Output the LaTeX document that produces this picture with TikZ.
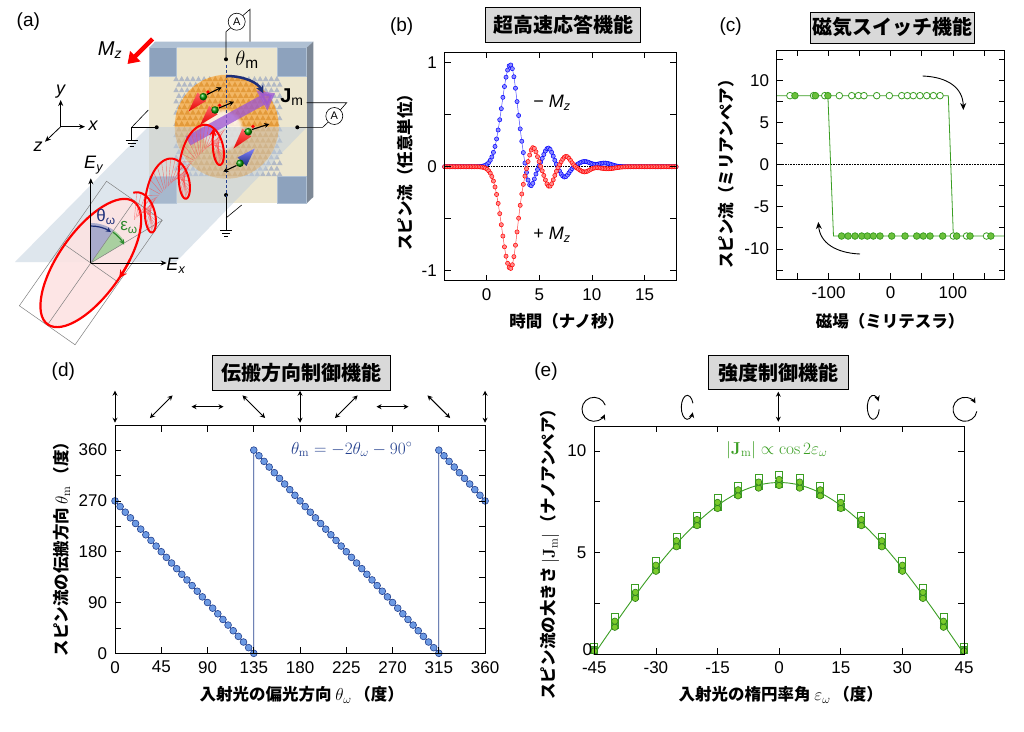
\documentclass[tikz,border=0pt]{standalone}
\usepackage[no-math]{fontspec}
\setmainfont{Liberation Sans}
\newfontfamily\jp{Noto Sans CJK JP}
\usetikzlibrary{arrows.meta,fadings}
\definecolor{cbox}{HTML}{D9D9D9}
\definecolor{cbeige}{HTML}{ECE6CF}
\definecolor{cpad}{HTML}{8DA2BD}
\definecolor{cdevtop}{HTML}{AFC0D3}
\definecolor{cdevside}{HTML}{7D8896}
\definecolor{cplane}{HTML}{BFCEDD}
\definecolor{cnavy}{HTML}{1D2F7A}
\definecolor{cdblue}{HTML}{23408E}
\definecolor{cdfill}{HTML}{6D9AE3}
\definecolor{cgreen}{HTML}{3A9E22}
\definecolor{cgfill}{HTML}{6CC03C}
\definecolor{cefill}{HTML}{7ACB2C}
\definecolor{cpurple}{HTML}{9B55D6}
\definecolor{cpink}{HTML}{FDE3E3}
\definecolor{cthfill}{HTML}{A9ABCB}
\definecolor{cepfill}{HTML}{A9CFA0}
\definecolor{clat}{HTML}{B2B9C5}
\definecolor{corbg}{HTML}{F3B765}
\definecolor{cortri}{HTML}{E39A3A}
\definecolor{cepsg}{HTML}{2E8B2E}
\begin{document}
\begin{tikzpicture}[x=1pt,y=-1pt,
  declare function={gs(\u)=exp(-(\u)*(\u));
    G(\t)=gs((\t-2.25)/ifthenelse(\t<2.25,1.15,0.95));
    fb(\t)=0.98*G(\t)-0.2*gs((\t-4.15)/0.55)+0.18*gs((\t-5.85)/0.65)-0.1*gs((\t-7.4)/0.6)+0.05*gs((\t-9.3)/0.8)+0.035*gs((\t-11.2)/0.9);
    fr(\t)=-0.98*G(\t)+0.19*gs((\t-4.4)/0.55)-0.19*gs((\t-5.95)/0.6)+0.1*gs((\t-7.55)/0.6)-0.05*gs((\t-9.3)/0.7)-0.02*gs((\t-11.5)/1);},
  tk/.style={font=\fontsize{17}{17}\selectfont, inner sep=1pt},
  axl/.style={font=\jp\bfseries\fontsize{16.5}{17}\selectfont},
  ttl/.style={draw, line width=1pt, fill=cbox, font=\jp\bfseries\fontsize{20}{20}\selectfont, inner sep=0pt},
  plabel/.style={font=\fontsize{19}{19}\selectfont},
  plotframe/.style={line width=1pt},
  tick/.style={line width=0.8pt},
  dbl/.style={line width=0.9pt,{Stealth[length=5pt,width=5pt]}-{Stealth[length=5pt,width=5pt]}},
  icon/.style={line width=0.9pt,-{Stealth[length=5.5pt,width=5.5pt]}},
  wire/.style={line width=0.6pt},
]
\useasboundingbox (0,0) rectangle (1024,731);
\fill[white] (0,0) rectangle (1024,731);

%%%%%%%%%%%%%%%% panel (a)
\node[plabel] (la) at (28.3,21.7) {(a)};
% device
\fill[cdevtop] (149.3,47.7) -- (155,41.7) -- (313.3,41.7) -- (306.7,47.7) -- cycle;
\fill[cdevside] (306.7,47.7) -- (313.3,41.7) -- (313.3,197) -- (306.7,203.3) -- cycle;
\fill[cbeige] (149.3,47.7) rectangle (306.7,203.3);
\foreach \a/\b/\c/\d in {149.3/47.7/176.7/76, 277.7/47.7/306.7/76, 149.3/176.7/176.7/203.3, 277.7/176.7/306.7/203.3}
  \filldraw[fill=cpad, draw=cdevtop, line width=0.8pt] (\a,\b) rectangle (\c,\d);
% lattice
\foreach \i in {0,...,17} \foreach \j in {0,...,18} {
  \pgfmathsetmacro\xx{173.3+\j*5.6+mod(\i,2)*2.8}
  \pgfmathsetmacro\yy{76+\i*5.6}
  \fill[clat] (\xx,\yy+5) -- (\xx+2.8,\yy) -- (\xx+5.6,\yy+5) -- cycle;}
\begin{scope}
  \clip (226.7,126.7) circle (52);
  \fill[corbg] (170,70) rectangle (285,180);
  \foreach \i in {0,...,17} \foreach \j in {0,...,18} {
    \pgfmathsetmacro\xx{173.3+\j*5.6+mod(\i,2)*2.8}
    \pgfmathsetmacro\yy{76+\i*5.6}
    \fill[cortri] (\xx,\yy+5) -- (\xx+2.8,\yy) -- (\xx+5.6,\yy+5) -- cycle;}
\end{scope}
\fill[white, opacity=0.8, path fading=circle with fuzzy edge 20 percent] (222,130) circle (22);
% light plane
\fill[cplane, opacity=0.5] (15,262) -- (148,127) -- (307,127) -- (176,262) -- cycle;
% wires and electrodes
\draw[wire] (226,59.3) -- (226,31.7) -- (230.7,27.7);
\draw[wire] (242.7,15.7) -- (250,9.3) -- (250,41.7);
\node[draw, circle, fill=white, minimum size=17pt, inner sep=0pt, font=\fontsize{11}{11}\selectfont, line width=0.6pt] (amp1) at (236.7,21.7) {A};
\draw[wire] (297.3,127.3) -- (322.7,127.3) -- (328.3,122);
\draw[wire] (340.3,110) -- (346.7,102.7) -- (306.7,102.7);
\node[draw, circle, fill=white, minimum size=17pt, inner sep=0pt, font=\fontsize{11}{11}\selectfont, line width=0.6pt] (amp2) at (334.3,116) {A};
\draw[wire] (156.7,127.3) -- (131.7,127.3) -- (131.7,140);
\draw[wire] (131.7,127.3) -- (148.3,110);
\draw[wire] (125.7,140) -- (137.7,140) (127.7,143) -- (135.7,143) (129.7,146) -- (133.7,146);
\draw[wire] (226,195) -- (226,230);
\draw[wire] (226,218) -- (241.7,205);
\draw[wire] (220,230) -- (232,230) (222,233) -- (230,233) (224,236) -- (228,236);
\foreach \p in {(226,59.3),(297.3,127.3),(156.7,127.3),(226,195)} \fill \p circle (2);
\draw[cdblue, line width=0.8pt, dash pattern=on 3pt off 2pt] (226,65) -- (226,197);
% spins
\shade[top color=red!60, bottom color=red!90!black] (188.5,111.5) -- (206,101) -- (197.5,92.5) -- cycle;
\fill[red] (208,92) circle (1.8);
\shade[ball color=green!60!black] (203.3,96.7) circle (3.8);
\draw[line width=1.1pt,-{Stealth[length=5pt,width=5pt]}] (207,94.5) -- (221.7,87.3);
\shade[top color=red!60, bottom color=red!90!black] (200.2,124.8) -- (217.7,114.3) -- (209.2,105.8) -- cycle;
\fill[red] (219.7,105.3) circle (1.8);
\shade[ball color=green!60!black] (215,110) circle (3.8);
\draw[line width=1.1pt,-{Stealth[length=5pt,width=5pt]}] (219,108) -- (234,101.7);
\shade[top color=red!60, bottom color=red!90!black] (233.5,148.5) -- (251.2,136.5) -- (242.4,128.5) -- cycle;
\fill[red] (253,126.5) circle (1.8);
\shade[ball color=green!60!black] (248.3,131.7) circle (3.8);
\draw[line width=1.1pt,-{Stealth[length=5pt,width=5pt]}] (252,129.5) -- (269.3,124);
\shade[top color=blue!50, bottom color=cnavy] (254.8,148.5) -- (246.5,166) -- (237.5,157.5) -- cycle;
\shade[ball color=green!60!black] (240,163.3) circle (3.8);
\draw[line width=1.1pt,-{Stealth[length=5pt,width=5pt]}] (236.5,165.5) -- (223.3,171.7);
% J_m arrow and theta_m arrow
\draw[cpurple, opacity=0.75, line width=10pt, -{Triangle[width=22pt,length=15pt]}] (188,141) -- (275,93.3);
\draw[cnavy, line width=2.5pt, -{Stealth[length=8pt,width=8pt]}] (226,76) .. controls (245,76) and (258,83) .. (263.3,93.3);
\node[font=\fontsize{22}{22}\selectfont] (thm) at (247,60) {$\theta$\textsubscript{m}};
\node[font=\fontsize{20}{20}\selectfont] (jm) at (292,96.7) {\textbf{J}\textsubscript{m}};
% M_z
\draw[red, line width=4.5pt, -{Triangle[width=14pt,length=11pt]}] (152.5,39) -- (127.5,64);
\node[font=\fontsize{20}{20}\selectfont] (mz) at (110,50) {\textit{M}\textsubscript{\textit{z}}};
% axes
\coordinate (o) at (60.7,126.7);
\draw[line width=0.8pt,-{Stealth[length=6pt,width=5pt]}] (o) -- (60.7,100);
\draw[line width=0.8pt,-{Stealth[length=6pt,width=5pt]}] (o) -- (85,126.7);
\draw[line width=0.8pt,-{Stealth[length=6pt,width=5pt]}] (o) -- (45,141.7);
\node[font=\fontsize{18}{18}\selectfont\itshape] at (60.7,92) {y};
\node[font=\fontsize{18}{18}\selectfont\itshape] at (93,126) {x};
\node[font=\fontsize{18}{18}\selectfont\itshape] at (38,147) {z};
% polarization ellipse
\begin{scope}[shift={(90.8pt,-263pt)}, rotate=-35, x=1pt, y=1pt]
  \fill[cpink, opacity=0.9] (0,0) ellipse[x radius=32, y radius=75];
  \fill[cthfill] (0,0) -- (90:40) arc[start angle=90, end angle=125, radius=40] -- cycle;
  \fill[cepfill] (0,0) -- (65.9:40) arc[start angle=65.9, end angle=90, radius=40] -- cycle;
  \draw[gray, line width=0.5pt] (-34,-76) rectangle (34,76);
  \draw[gray, line width=0.5pt] (0,-76) -- (0,76) (-34,0) -- (34,0) (0,0) -- (34,76);
  \draw[red, line width=2.2pt] (0,0) ellipse[x radius=32, y radius=75];
  \draw[red, line width=2.2pt, -{Stealth[length=8pt,width=8pt]}] (20:32 and 75) arc[start angle=20, end angle=3, x radius=32, y radius=75];
  \draw[cnavy, line width=1.2pt, -{Stealth[length=5pt,width=5pt]}] (125:37) arc[start angle=125, end angle=92, radius=37];
  \draw[cepsg, line width=1.2pt, -{Stealth[length=5pt,width=5pt]}] (89:38) arc[start angle=89, end angle=64, radius=38];
\end{scope}
\coordinate (eo) at (90.8,263);
\draw[line width=0.8pt,-{Stealth[length=6pt,width=5pt]}] (eo) -- (90.8,178.3);
\draw[line width=0.8pt,-{Stealth[length=6pt,width=5pt]}] (eo) -- (166.7,263);
\node[font=\fontsize{18}{18}\selectfont] at (94,165) {\textit{E}\textsubscript{\textit{y}}};
\node[font=\fontsize{18}{18}\selectfont] at (176,266) {\textit{E}\textsubscript{\textit{x}}};
\node[cnavy, font=\fontsize{17}{17}\selectfont] at (106,216.7) {θ\textsubscript{ω}};
\node[cepsg, font=\fontsize{17}{17}\selectfont] at (129,227.3) {ε\textsubscript{ω}};
% helix
\foreach \s in {0.32,0.33,...,0.99}
  \draw[red!70, line width=0.4pt, opacity=0.7] ({90.8+136*\s},{263-135*\s}) -- ({90.8+136*\s+13*sin(1440*(\s-0.3125))},{263-135*\s-28*cos(1440*(\s-0.3125))});
\draw[red, line width=2pt, -{Stealth[length=7pt,width=7pt]}] plot[domain=0.3125:1, samples=300] ({90.8+136*\x+13*sin(1440*(\x-0.3125))},{263-135*\x-28*cos(1440*(\x-0.3125))});

%%%%%%%%%%%%%%%% panel (b)
\node[plabel] (lb) at (401.7,26.7) {(b)};
\node[ttl, minimum width=155pt, minimum height=35pt] (tb) at (563.3,25) {超高速応答機能};
\begin{scope}[shift={(486.7pt,-166.7pt)},x=10.52pt,y=103.9pt]
  \draw[densely dotted, line width=0.6pt] (-4,0) -- (18,0);
  \draw[blue!70, line width=0.5pt] plot[domain=-4:18, samples=220] (\x,{fb(\x)});
  \draw plot[only marks, mark=*, mark size=2.1pt, mark options={draw=blue, fill=blue!45, line width=0.5pt}, domain=-4:18, samples=148] (\x,{fb(\x)});
  \draw[red!70, line width=0.5pt] plot[domain=-4:18, samples=220] (\x,{fr(\x)});
  \draw plot[only marks, mark=*, mark size=2.1pt, mark options={draw=red, fill=red!45, line width=0.5pt}, domain=-4:18, samples=148] (\x,{fr(\x)});
  \draw[plotframe] (-4,-1.1) rectangle (18,1.1);
  \foreach \v in {-1,-0.5,0,0.5,1} {\draw[tick] (-4,\v) -- ++(6pt,0pt); \draw[tick] (18,\v) -- ++(-6pt,0pt);}
  \foreach \v in {0,5,10,15} {\draw[tick] (\v,-1.1) -- ++(0pt,6pt); \draw[tick] (\v,1.1) -- ++(0pt,-6pt);
     \node[tk, below=6.7pt] at (\v,-1.1) {\v};}
  \node[tk, left=6.7pt] at (-4,1) {1};
  \node[tk, left=6.7pt] at (-4,0) {0};
  \node[tk, left=6.7pt] at (-4,-1) {-1};
\end{scope}
\node[font=\fontsize{18}{18}\selectfont] (mzm) at (552,103) {− \textit{M}\textsubscript{\textit{z}}};
\node[font=\fontsize{18}{18}\selectfont] (mzp) at (552,235) {+ \textit{M}\textsubscript{\textit{z}}};
\node[axl, rotate=90] (yb) at (405.7,168) {スピン流（任意単位）};
\node[axl] (xb) at (566.7,321.7) {時間（ナノ秒）};

%%%%%%%%%%%%%%%% panel (c)
\node[plabel] (lc) at (730.7,26.7) {(c)};
\node[ttl, minimum width=164pt, minimum height=31pt] (tc) at (892,27.5) {磁気スイッチ機能};
\begin{scope}[shift={(890.7pt,-164.7pt)},x=0.622pt,y=8.42pt]
  \draw[densely dotted, line width=0.6pt] (-183,0) -- (183,0);
  \draw[cgreen, line width=0.8pt] (-183,8.2) -- (92.6,8.2) -- (100.7,-8.47) -- (183,-8.47);
  \draw[cgreen, line width=0.8pt] (100.7,-8.47) -- (-92,-8.47) -- (-101,8.2);
  \foreach \h in {-162,-124,-106,-82.6,-62.7,-52,-43,-22.5,-2.2,17.7,26.7,36.3,47,57.9,68.6,79.3}
    \draw[cgreen, fill=white, line width=0.8pt] (\h,8.2) circle[radius=3.3pt];
  \foreach \h in {100.7,122,154}
    \draw[cgreen, fill=white, line width=0.8pt] (\h,-8.47) circle[radius=3.3pt];
  \foreach \h in {-154,-121,-101}
    \draw[cgreen, fill=cgfill, line width=0.8pt] (\h,8.2) circle[radius=3.3pt];
  \foreach \h in {-79,-68.5,-57.4,-46.6,-37.6,-27.9,-17.2,1.6,23,41.8,52.4,63.2,83.6,106,127.5,161}
    \draw[cgreen, fill=cgfill, line width=0.8pt] (\h,-8.47) circle[radius=3.3pt];
  \draw[plotframe] (-183,-13.6) rectangle (183,13.6);
  \foreach \v in {-12.5,-10,...,12.5} {\draw[tick] (-183,\v) -- ++(6pt,0pt); \draw[tick] (183,\v) -- ++(-6pt,0pt);}
  \foreach \v in {-150,-100,...,150} {\draw[tick] (\v,-13.6) -- ++(0pt,6pt); \draw[tick] (\v,13.6) -- ++(0pt,-6pt);}
  \foreach \v in {-100,0,100} \node[tk, below=6.7pt] at (\v,-13.6) {\v};
  \foreach \v in {-10,-5,0,5,10} \node[tk, left=6.7pt] at (-183,\v) {\v};
\end{scope}
\draw[line width=0.9pt, -{Stealth[length=7pt,width=6pt]}] (922.7,76) .. controls (948,77) and (963,88) .. (963.3,110);
\draw[line width=0.9pt, -{Stealth[length=7pt,width=6pt]}] (860,254) .. controls (836,253) and (820,243) .. (818.3,222);
\node[axl, rotate=90] (yc) at (726,170) {スピン流（ミリアンペア）};
\node[axl] (xc) at (890,321) {磁場（ミリテスラ）};

%%%%%%%%%%%%%%%% panel (d)
\node[plabel] (ld) at (63.3,371.7) {(d)};
\node[ttl, minimum width=178pt, minimum height=35pt] (td) at (301.5,373.2) {伝搬方向制御機能};
\foreach \v in {0,45,...,360}
  \draw[dbl] ({115+1.028*\v-16*sin(\v)},{406.7+16*cos(\v)}) -- ({115+1.028*\v+16*sin(\v)},{406.7-16*cos(\v)});
\begin{scope}[shift={(115pt,-653.3pt)},x=1.028pt,y=0.5644pt]
  \draw[cdblue, line width=0.8pt] (0,270) -- (135,0) -- (135,360) -- (315,0) -- (315,360) -- (360,270);
  \foreach \t in {0,5,...,135} \draw[cdblue, fill=cdfill, line width=0.6pt] (\t,{270-2*\t}) circle[radius=3.4pt];
  \foreach \t in {135,140,...,315} \draw[cdblue, fill=cdfill, line width=0.6pt] (\t,{630-2*\t}) circle[radius=3.4pt];
  \foreach \t in {315,320,...,360} \draw[cdblue, fill=cdfill, line width=0.6pt] (\t,{990-2*\t}) circle[radius=3.4pt];
  \draw[plotframe] (0,0) rectangle (360,403);
  \foreach \v in {0,45,...,360} {\draw[tick] (\v,0) -- ++(0pt,6pt); \draw[tick] (\v,403) -- ++(0pt,-6pt);
     \node[tk, below=6.7pt] at (\v,0) {\v};}
  \foreach \v in {45,90,...,360} {\draw[tick] (0,\v) -- ++(6pt,0pt); \draw[tick] (360,\v) -- ++(-6pt,0pt);}
  \foreach \v in {0,90,180,270,360} \node[tk, left=6.7pt] at (0,\v) {\v};
\end{scope}
\node[cdblue, font=\fontsize{18}{18}\selectfont] (eqd) at (351.7,449.3) {$\theta_{\mathrm{m}} = -2\theta_\omega - 90^\circ$};
\node[axl, rotate=90] (yd) at (61.7,545) {スピン流の伝搬方向 $\theta_{\mathrm{m}}$\,（度）};
\node[axl] (xd) at (301.7,695) {入射光の偏光方向 $\theta_\omega$\,（度）};

%%%%%%%%%%%%%%%% panel (e)
\node[plabel] (le) at (546,371.7) {(e)};
\node[ttl, minimum width=140pt, minimum height=34pt] (te) at (778.3,372.9) {強度制御機能};
\draw[icon] (594,409.3) ++(-20:12) arc[start angle=-20, end angle=-335, radius=12];
\draw[icon] (687.3,407.3) ++(-20:6 and 12) arc[start angle=-20, end angle=-335, x radius=6, y radius=12];
\draw[dbl] (778.3,391.7) -- (778.3,421.7);
\draw[icon] (873.3,407.3) ++(10:6 and 12) arc[start angle=10, end angle=330, x radius=6, y radius=12];
\draw[icon] (965,409.3) ++(10:12) arc[start angle=10, end angle=330, radius=12];
\begin{scope}[shift={(779.15pt,-654pt)},x=4.108pt,y=20.3pt]
  \draw[cgreen, line width=0.9pt] plot[domain=-45:45, samples=60] (\x,{8.45*cos(2*\x)});
  \foreach \e in {-45,-40,...,45} {
    \pgfmathsetmacro\v{8.45*cos(2*\e)}
    \draw[cgreen, fill=white, line width=0.9pt] (\e,{\v+0.35}) ++(-3.5pt,-3.5pt) rectangle ++(7pt,7pt);
    \draw[cgreen, fill=cgreen!85, line width=0.9pt] (\e,{max(\v-0.05,0.2)}) ++(-3.5pt,-3.5pt) rectangle ++(7pt,7pt);
    \draw[cgreen!80!black, fill=cefill, line width=0.6pt] (\e,{max(\v-0.15,0.15)}) circle[radius=3.2pt];
    \draw[cgreen!80!black, fill=cefill, line width=0.6pt] (\e,{\v+0.15}) circle[radius=3.2pt];
  }
  \draw[plotframe] (-45,0) rectangle (45,11.23);
  \foreach \v in {-45,-30,...,45} {\draw[tick] (\v,0) -- ++(0pt,6pt); \draw[tick] (\v,11.23) -- ++(0pt,-6pt);
     \node[tk, below=6.7pt] at (\v,0) {\v};}
  \foreach \v in {2.5,5,7.5,10} {\draw[tick] (-45,\v) -- ++(6pt,0pt); \draw[tick] (45,\v) -- ++(-6pt,0pt);}
  \foreach \v in {5,10} \node[tk, left=6.7pt] at (-45,\v) {\v};
  \node[tk, left=1pt] at (-45,0.2) {0};
\end{scope}
\node[cgreen, font=\fontsize{18}{18}\selectfont] (eqe) at (776.7,450) {$|\mathbf{J}_{\mathrm{m}}| \propto \cos 2\varepsilon_\omega$};
\node[axl, rotate=90] (ye) at (550,550) {スピン流の大きさ $|\mathbf{J}_{\mathrm{m}}|$\,（ナノアンペア）};
\node[axl] (xe) at (780.8,695) {入射光の楕円率角 $\varepsilon_\omega$\,（度）};
\end{tikzpicture}
\end{document}
